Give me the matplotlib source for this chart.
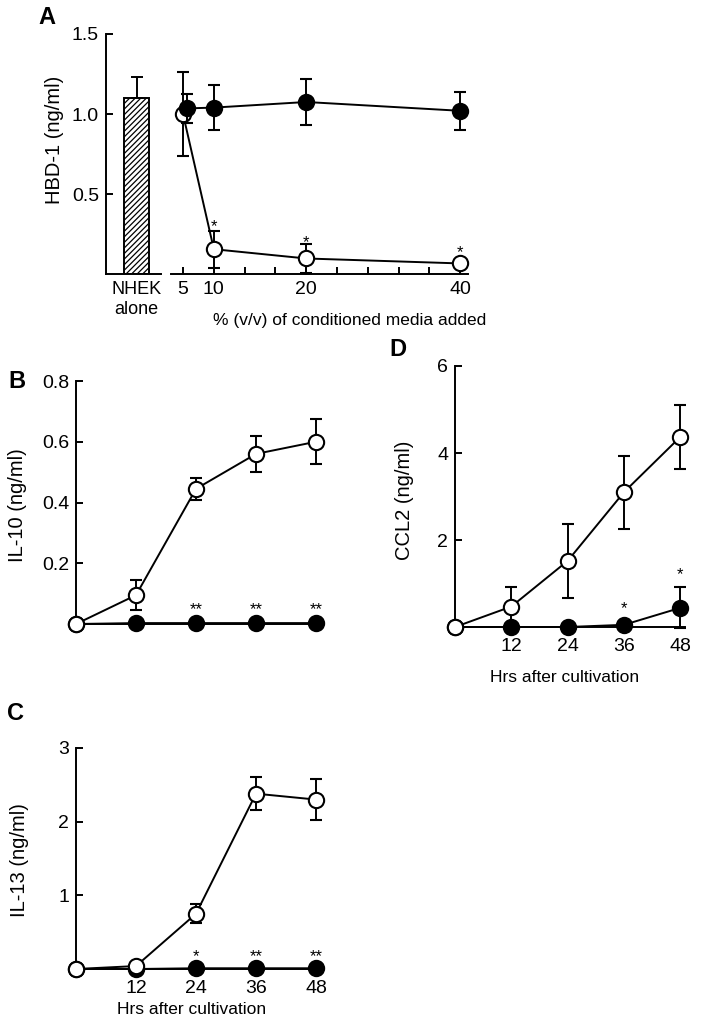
import numpy as np
import matplotlib.pyplot as plt

plt.rcParams['font.family'] = ['Liberation Sans', 'DejaVu Sans']
plt.rcParams['hatch.linewidth'] = 0.9

# panel A: HBD-1 vs % conditioned media
nhek_mean = 1.10
nhek_err = 0.13
pct = [5, 10, 20, 40]
pct_ticks = ['5', '10', '', '', '20', '', '', '', '', '40']
hbd_open = [1.00, 0.155, 0.097, 0.066]
hbd_open_err = [0.265, 0.115, 0.09, 0.0]
hbd_filled = [1.035, 1.04, 1.075, 1.02]
hbd_filled_err = [0.09, 0.14, 0.145, 0.12]

# panels B-D: time course
hours = [0, 12, 24, 36, 48]
il10_open = [0, 0.095, 0.445, 0.56, 0.60]
il10_open_err = [0, 0.05, 0.037, 0.06, 0.074]
il10_filled = [0, 0.003, 0.003, 0.003, 0.003]
il13_open = [0, 0.04, 0.75, 2.38, 2.30]
il13_open_err = [0, 0, 0.13, 0.22, 0.28]
il13_filled = [0, 0, 0.01, 0.01, 0.01]
ccl2_open = [0, 0.47, 1.52, 3.10, 4.37]
ccl2_open_err = [0, 0.46, 0.85, 0.84, 0.74]
ccl2_filled = [0, 0, 0, 0.05, 0.44]
ccl2_filled_err = [0, 0, 0, 0, 0.47]

W, H = 706, 1021
FS = 14          # tick labels
FX = 12.5        # horizontal axis titles
YLAB = dict(fontsize=14.5, rotation=90, ha='center', va='center')
LET = dict(fontsize=17, fontweight='bold', ha='center', va='center')


def box(l, t, r, b):
    return [l / W, 1 - b / H, (r - l) / W, (b - t) / H]


def series(ax, x, y, err, filled, z):
    c = ax.errorbar(x, y, yerr=err, fmt='-o', color='k', lw=1.4, ms=11, mew=1.5,
                    mfc='k' if filled else 'w', mec='k', capsize=4.5, capthick=1.4,
                    elinewidth=1.4, zorder=z)
    for a in c.get_children():
        a.set_clip_on(False)


def stars(ax, xs, y, txt):
    for x, t in zip(xs, txt):
        ax.annotate(t, xy=(x, y), xytext=(0, -6.3), textcoords='offset points',
                    ha='center', va='baseline', fontsize=12, annotation_clip=False)


def style(ax):
    for s in ['top', 'right']:
        ax.spines[s].set_visible(False)
    for s in ['left', 'bottom']:
        ax.spines[s].set_linewidth(1.4)
    ax.tick_params(axis='y', direction='in', length=5, width=1.4, pad=5, labelsize=FS)
    ax.tick_params(axis='x', length=0, labelsize=FS)


fig = plt.figure(figsize=(W / 100, H / 100), dpi=100)

# ---- A, bar part
axb = fig.add_axes(box(106, 34, 161, 274))
axb.bar([0], [nhek_mean], width=0.45, color='white', edgecolor='k', hatch='//////',
        lw=1.4, yerr=[[0], [nhek_err]], capsize=4.5,
        error_kw=dict(elinewidth=1.4, capthick=1.4))
axb.set_xlim(-0.555, 0.445)
axb.set_ylim(0, 1.5)
style(axb)
axb.set_yticks([0.5, 1.0, 1.5])
axb.set_yticklabels(['0.5', '1.0', '1.5'])
axb.set_xticks([0])
axb.set_xticklabels(['NHEK\nalone'], linespacing=1.25, fontsize=13)
axb.tick_params(axis='x', pad=5)

# ---- A, line part
axa = fig.add_axes(box(171, 34, 468, 274))
pos = np.array([pct_ticks.index(str(p)) for p in pct], dtype=float)
pos_f = pos.copy()
pos_f[0] += 0.13
series(axa, pos, hbd_open, hbd_open_err, False, 3)
series(axa, pos_f, hbd_filled, hbd_filled_err, True, 4)
axa.set_xlim(-0.39, 9.25)
axa.set_ylim(0, 1.5)
for s in ['top', 'right', 'left']:
    axa.spines[s].set_visible(False)
axa.spines['bottom'].set_linewidth(1.4)
axa.set_yticks([])
axa.set_xticks(range(len(pct_ticks)))
axa.set_xticklabels(pct_ticks)
axa.tick_params(axis='x', direction='in', length=5, width=1.4, pad=5, labelsize=FS)
for x, y in zip(pos[1:], [0.32, 0.22, 0.16]):
    stars(axa, [x], y, ['*'])

fig.text(47 / W, 1 - 18 / H, 'A', **LET)
fig.text(55 / W, 1 - 140 / H, 'HBD-1 (ng/ml)', **YLAB)
fig.text(350 / W, 1 - 320 / H, '% (v/v) of conditioned media added', fontsize=FX,
         ha='center', va='center')

# ---- B
ax = fig.add_axes(box(76, 381, 321, 624))
series(ax, hours, il10_filled, None, True, 3)
series(ax, hours, il10_open, il10_open_err, False, 4)
ax.set_xlim(0, 49)
ax.set_ylim(0, 0.8)
style(ax)
ax.set_yticks([0.2, 0.4, 0.6, 0.8])
ax.set_xticks([])
stars(ax, hours[2:], 0.062, ['**'] * 3)
fig.text(17 / W, 1 - 381 / H, 'B', **LET)
fig.text(18 / W, 1 - 505 / H, 'IL-10 (ng/ml)', **YLAB)

# ---- C
ax = fig.add_axes(box(76, 748, 321, 969))
series(ax, hours, il13_filled, None, True, 3)
series(ax, hours, il13_open, il13_open_err, False, 4)
ax.set_xlim(0, 49)
ax.set_ylim(0, 3)
style(ax)
ax.set_yticks([1, 2, 3])
ax.set_xticks(hours[1:])
ax.tick_params(axis='x', pad=8)
stars(ax, hours[2:], 0.23, ['*', '**', '**'])
fig.text(15 / W, 1 - 713 / H, 'C', **LET)
fig.text(20 / W, 1 - 860 / H, 'IL-13 (ng/ml)', **YLAB)
fig.text(192 / W, 1 - 1009 / H, 'Hrs after cultivation', fontsize=FX, ha='center', va='center')

# ---- D
ax = fig.add_axes(box(455, 366, 685, 627))
series(ax, hours, ccl2_filled, ccl2_filled_err, True, 3)
series(ax, hours, ccl2_open, ccl2_open_err, False, 4)
ax.set_xlim(0, 49)
ax.set_ylim(0, 6)
style(ax)
ax.set_yticks([2, 4, 6])
ax.set_xticks(hours[1:])
ax.tick_params(axis='x', pad=8)
stars(ax, [36], 0.52, ['*'])
stars(ax, [48], 1.30, ['*'])
fig.text(398 / W, 1 - 350 / H, 'D', **LET)
fig.text(404 / W, 1 - 500 / H, 'CCL2 (ng/ml)', **YLAB)
fig.text(565 / W, 1 - 678 / H, 'Hrs after cultivation', fontsize=FX, ha='center', va='center')

fig.savefig('out.png', dpi=100)
